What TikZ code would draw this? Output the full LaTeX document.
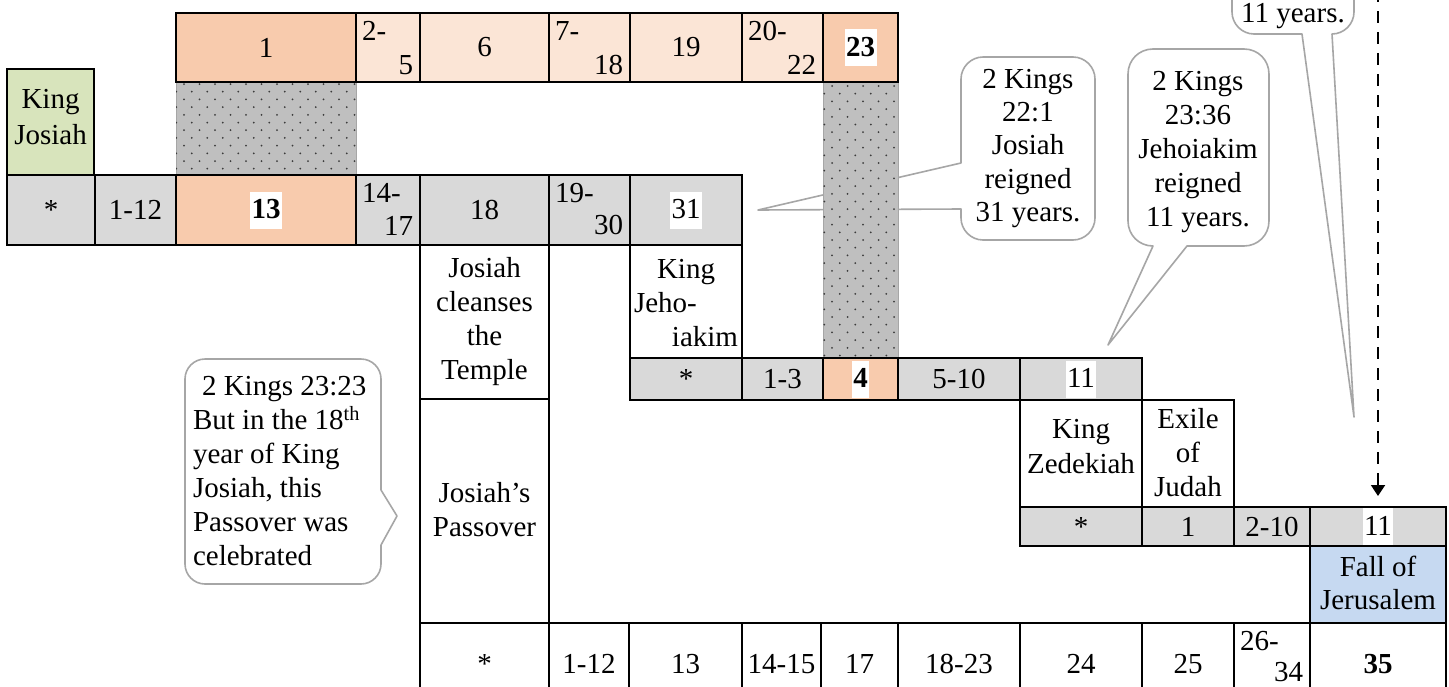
\documentclass[tikz,border=0pt]{standalone}
\usepackage{fontspec}
\setmainfont{Liberation Serif}
\usetikzlibrary{arrows.meta}
\definecolor{orng}{HTML}{F8CBAD}
\definecolor{lorng}{HTML}{FBE5D6}
\definecolor{gry}{HTML}{D9D9D9}
\definecolor{grn}{HTML}{D8E4BC}
\definecolor{blu}{HTML}{C6D9F1}
\definecolor{dotbg}{HTML}{BFBFBF}
\definecolor{dotfg}{HTML}{3C3C3C}
\definecolor{cline}{HTML}{A6A6A6}
\newcommand\bigf{\fontsize{29}{34}\selectfont}
\newcommand\mkcell[7]{\node[cellbox,#6,anchor=north west,minimum width={(#4)-(#2)},minimum height={(#5)-(#3)}] (#1) at (#2,#3) {#7};}
\newcommand\splitlbl[4][61]{%
  \node[anchor=base west] (#2-a) at ([xshift=6pt,yshift=-27pt]#2.north west) {#3};%
  \node[anchor=base east] (#2-b) at ([xshift=-7pt,yshift=-#1pt]#2.north east) {#4};}
\newcommand\hltext[3]{\node[hl,font=\bigf#3] (#1-t) at (#1.center) {#2};}
\begin{document}
\begin{tikzpicture}[x=1pt,y=-1pt,
  every node/.style={font=\bigf,inner sep=0pt,outer sep=0pt},
  cellbox/.style={draw=black,line width=2pt,rectangle},
  topbox/.style={cellbox,line width=2.5pt},
  hl/.style={fill=white,inner xsep=1.5pt,inner ysep=1pt,text height=26pt,text depth=9pt},
  blk/.style={align=center,anchor=north,execute at begin node={\rule{0pt}{21pt}}},
  blkl/.style={align=left,anchor=north west,execute at begin node={\rule{0pt}{21pt}}},
  callout/.style={draw=cline,line width=1.6pt,fill=white,line join=round},
  dotpat/.style={fill=dotbg,draw=cline,line width=0.8pt},
  dot/.style={fill=dotfg},
  timearrow/.style={draw=black,line width=1.8pt,dash pattern=on 12pt off 9pt,-{Triangle[length=11pt,width=14pt]}}
]
\useasboundingbox (0,0) rectangle (1449,686);
\fill[white] (0,0) rectangle (1449,686);
\clip (0,0) rectangle (1449,686);

% ---------- callouts (behind) ----------
\draw[callout] (205,359) -- (361,359) .. controls (372,359) and (381,368) .. (381,379) -- (381,490) -- (397,516) -- (381,545) -- (381,564) .. controls (381,575) and (372,584) .. (361,584) -- (205,584) .. controls (194,584) and (185,575) .. (185,564) -- (185,379) .. controls (185,368) and (194,359) .. (205,359) -- cycle;
\draw[callout] (983,57) -- (1073,57) .. controls (1085,57) and (1095,67) .. (1095,79) -- (1095,218) .. controls (1095,230) and (1085,240) .. (1073,240) -- (983,240) .. controls (971,240) and (961,230) .. (961,218) -- (961,209) -- (758,210) -- (961,163) -- (961,79) .. controls (961,67) and (971,57) .. (983,57) -- cycle;
\draw[callout] (1153,49) -- (1244,49) .. controls (1258,49) and (1269,60) .. (1269,74) -- (1269,221) .. controls (1269,235) and (1258,246) .. (1244,246) -- (1187,246) -- (1108,345) -- (1153,246) .. controls (1139,246) and (1128,235) .. (1128,221) -- (1128,74) .. controls (1128,60) and (1139,49) .. (1153,49) -- cycle;
\draw[callout] (1232,-60) -- (1232,12) .. controls (1232,24) and (1242,34) .. (1254,34) -- (1302,34) -- (1354,417) -- (1332,34) .. controls (1344,34) and (1354,24) .. (1354,12) -- (1354,-60) -- cycle;

\node[blkl] (co1) at (193,376) {\hspace*{9pt}2 Kings 23:23\\But in the 18\textsuperscript{th}\\year of King\\Josiah, this\\Passover was\\celebrated};
\node[blk,font={\fontsize{29}{33.3}\selectfont}] (co2) at (1028,69) {2 Kings\\22:1\\Josiah\\reigned\\31 years.};
\node[blk] (co3) at (1198,71) {2 Kings\\23:36\\Jehoiakim\\reigned\\11 years.};
\node[anchor=base] (co4) at (1293,22) {11 years.};

% ---------- dotted regions ----------
\path[dotpat] (176,82) rectangle (356,175);
\begin{scope}
\clip (176,82) rectangle (356,175);
\foreach \r in {0,...,12}{\foreach \c in {-1,...,12}{\fill[dot] ({184+\c*15.5+mod(\r,2)*7.75},{84+\r*7.7}) circle (1pt);}}
\end{scope}
\path[dotpat] (823,82) rectangle (898,358);
\begin{scope}
\clip (823,82) rectangle (898,358);
\foreach \r in {0,...,36}{\foreach \c in {-1,...,5}{\fill[dot] ({832+\c*15.5-mod(\r,2)*7.75},{86+\r*7.7}) circle (1pt);}}
\end{scope}

% ---------- top row ----------
\mkcell{t1}{176}{13}{356}{82}{topbox,fill=orng}{1}
\mkcell{t2}{356}{13}{420}{82}{topbox,fill=lorng}{}
\mkcell{t3}{420}{13}{549}{82}{topbox,fill=lorng}{6}
\mkcell{t4}{549}{13}{630}{82}{topbox,fill=lorng}{}
\mkcell{t5}{630}{13}{742}{82}{topbox,fill=lorng}{19}
\mkcell{t6}{742}{13}{823}{82}{topbox,fill=lorng}{}
\mkcell{t7}{823}{13}{898}{82}{topbox,fill=orng}{}
\splitlbl{t2}{2-}{5}
\splitlbl{t4}{7-}{18}
\splitlbl{t6}{20-}{22}
\hltext{t7}{23}{\bfseries}

% ---------- King Josiah ----------
\mkcell{kj}{7}{69}{94}{175}{cellbox,line width=1.6pt,fill=grn}{}
\node[blk,font={\fontsize{29}{36.7}\selectfont}] (kj-t) at (50.5,89) {King\\Josiah};

% ---------- row 2 ----------
\mkcell{a1}{7}{175}{95}{245}{fill=gry}{*}
\mkcell{a2}{95}{175}{176}{245}{fill=gry}{1-12}
\mkcell{a3}{176}{175}{356}{245}{fill=orng}{}
\mkcell{a4}{356}{175}{420}{245}{fill=gry}{}
\mkcell{a5}{420}{175}{549}{245}{fill=gry}{18}
\mkcell{a6}{549}{175}{630}{245}{fill=gry}{}
\mkcell{a7}{630}{175}{742}{245}{fill=gry}{}
\hltext{a3}{13}{\bfseries}
\splitlbl[60]{a4}{14-}{17}
\splitlbl[59]{a6}{19-}{30}
\hltext{a7}{31}{}

% ---------- Josiah boxes ----------
\mkcell{ct}{420}{245}{549}{399}{fill=white}{}
\node[blk] (ct-t) at (484.5,257) {Josiah\\cleanses\\the\\Temple};
\mkcell{jp}{420}{399}{549}{623}{fill=white}{}
\node[blk] (jp-t) at (484.5,482) {Josiah’s\\Passover};

% ---------- King Jehoiakim ----------
\mkcell{kjh}{630}{245}{742}{358}{fill=white}{}
\node[anchor=base] (kjh-1) at (686,278) {King};
\node[anchor=base west] (kjh-2) at (634,312) {Jeho-};
\node[anchor=base east] (kjh-3) at (738,346) {iakim};

% ---------- row 3 ----------
\mkcell{b1}{630}{358}{742}{400}{fill=gry}{*}
\mkcell{b2}{742}{358}{823}{400}{fill=gry}{1-3}
\mkcell{b3}{823}{358}{898}{400}{fill=orng}{}
\mkcell{b4}{898}{358}{1020}{400}{fill=gry}{5-10}
\mkcell{b5}{1020}{358}{1142}{400}{fill=gry}{}
\hltext{b3}{4}{\bfseries}
\hltext{b5}{11}{}

% ---------- Zedekiah / Exile ----------
\mkcell{kz}{1020}{400}{1142}{507}{fill=white}{}
\node[blk,font={\fontsize{29}{35}\selectfont}] (kz-t) at (1081,419) {King\\Zedekiah};
\mkcell{ex}{1142}{400}{1234}{507}{fill=white}{}
\node[blk] (ex-t) at (1188,408) {Exile\\of\\Judah};

% ---------- row 4 ----------
\mkcell{d1}{1020}{507}{1142}{546}{fill=gry}{*}
\mkcell{d2}{1142}{507}{1234}{546}{fill=gry}{1}
\mkcell{d3}{1234}{507}{1310}{546}{fill=gry}{2-10}
\mkcell{d4}{1310}{507}{1446}{546}{fill=gry}{}
\hltext{d4}{11}{}

\mkcell{fj}{1310}{546}{1446}{623}{fill=blu}{}
\node[blk,font={\fontsize{29}{33}\selectfont}] (fj-t) at (1378,556) {Fall of\\Jerusalem};

% ---------- bottom row ----------
\mkcell{e1}{420}{623}{549}{705}{fill=white}{*}
\mkcell{e2}{549}{623}{629}{705}{fill=white}{1-12}
\mkcell{e3}{629}{623}{742}{705}{fill=white}{13}
\mkcell{e4}{742}{623}{821}{705}{fill=white}{14-15}
\mkcell{e5}{821}{623}{898}{705}{fill=white}{17}
\mkcell{e6}{898}{623}{1020}{705}{fill=white}{18-23}
\mkcell{e7}{1020}{623}{1142}{705}{fill=white}{24}
\mkcell{e8}{1142}{623}{1234}{705}{fill=white}{25}
\mkcell{e9}{1234}{623}{1310}{705}{fill=white}{}
\mkcell{e10}{1310}{623}{1446}{705}{fill=white}{\textbf{35}}
\splitlbl[58]{e9}{26-}{34}

% ---------- dashed arrow ----------
\coordinate (dtop) at (1378,-10);
\draw[timearrow] (dtop) -- ([yshift=11pt]d4.north);
\end{tikzpicture}
\end{document}
